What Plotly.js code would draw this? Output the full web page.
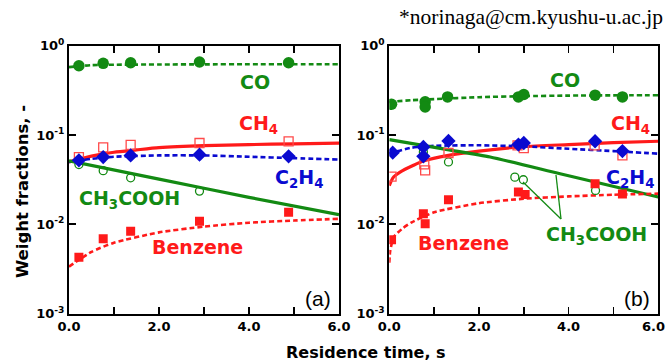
<!DOCTYPE html>
<html>
<head>
<meta charset="utf-8">
<script src="https://cdn.plot.ly/plotly-3.0.1.min.js"></script>
<style>html,body{margin:0;padding:0;background:#fff;}#chart{width:668px;height:363px;}</style>
</head>
<body>
<div id="chart"></div>
<script>
// ---------- Panel (a) data ----------
const aCO_x = [0.22, 0.76, 1.37, 2.9, 4.88];
const aCO_y = [0.596, 0.634, 0.645, 0.656, 0.645];
const aCOfit_x = [0, 0.5, 1, 2, 3, 4, 5, 6];
const aCOfit_y = [0.575, 0.605, 0.612, 0.616, 0.618, 0.62, 0.62, 0.62];

const aCH4_x = [0.22, 0.76, 1.37, 2.9, 4.88];
const aCH4_y = [0.0566, 0.0725, 0.0775, 0.0813, 0.0849];
const aCH4fit_x = [0, 0.5, 1, 1.5, 2, 3, 4, 5, 6];
const aCH4fit_y = [0.050, 0.058, 0.064, 0.068, 0.072, 0.076, 0.078, 0.0795, 0.081];

const aC2H4_x = [0.22, 0.76, 1.37, 2.9, 4.88];
const aC2H4_y = [0.052, 0.0566, 0.059, 0.0601, 0.0577];
const aC2H4fit_x = [0, 0.5, 1, 2, 3, 4, 5, 6];
const aC2H4fit_y = [0.0498, 0.054, 0.057, 0.059, 0.059, 0.057, 0.055, 0.053];

const aAc_x = [0.22, 0.76, 1.37, 2.9];
const aAc_y = [0.0466, 0.0398, 0.0331, 0.0235];
const aAcfit_x = [0, 2, 4, 6];
const aAcfit_y = [0.0512, 0.032, 0.020, 0.0128];

const aBz_x = [0.22, 0.76, 1.37, 2.9, 4.88];
const aBz_y = [0.00426, 0.00686, 0.00834, 0.0108, 0.0136];
const aBzfit_x = [0, 0.5, 1, 2, 3, 4, 5, 6];
const aBzfit_y = [0.00335, 0.0049, 0.0062, 0.0081, 0.0094, 0.0104, 0.011, 0.0115];

// ---------- Panel (b) data ----------
const bCO_x = [0.05, 0.8, 0.8, 1.3, 2.88, 3.0, 4.59, 5.2];
const bCO_y = [0.221, 0.235, 0.206, 0.267, 0.267, 0.284, 0.279, 0.267];
const bCOfit_x = [0, 0.5, 1, 2, 3, 4, 5, 6];
const bCOfit_y = [0.235, 0.245, 0.252, 0.265, 0.272, 0.276, 0.278, 0.279];

const bCH4_x = [0.05, 0.78, 0.8, 1.32, 2.86, 3.0, 4.58, 5.2];
const bCH4_y = [0.0342, 0.0469, 0.0401, 0.0628, 0.0766, 0.0714, 0.0766, 0.059];
const bCH4fit_x = [0, 0.05, 0.1, 0.24, 0.54, 0.76, 1.32, 2, 3, 4, 5, 6];
const bCH4fit_y = [0.027, 0.031, 0.034, 0.0384, 0.0457, 0.051, 0.0591, 0.066, 0.074, 0.078, 0.082, 0.085];

const bC2H4_x = [0.076, 0.76, 0.76, 1.32, 2.88, 3.0, 4.59, 5.2];
const bC2H4_y = [0.0634, 0.0734, 0.0577, 0.0857, 0.078, 0.0813, 0.085, 0.066];
const bC2H4fit_x = [0, 0.5, 1, 2, 3, 4, 5, 6];
const bC2H4fit_y = [0.062, 0.072, 0.0755, 0.0766, 0.0745, 0.070, 0.066, 0.0617];

const bAc_x = [0.76, 1.32, 2.8, 2.99, 4.6];
const bAc_y = [0.0646, 0.0499, 0.0337, 0.0315, 0.0239];
const bAcfit_x = [0, 1.3, 2.25, 3.81, 6];
const bAcfit_y = [0.0887, 0.0685, 0.0566, 0.0368, 0.0202];

const bBz_x = [0.05, 0.76, 0.8, 1.32, 2.88, 3.03, 4.59, 5.2];
const bBz_y = [0.0067, 0.0131, 0.0101, 0.0188, 0.0229, 0.0215, 0.0284, 0.0218];
const bBzfit_x = [0, 0.02, 0.1, 0.3, 0.5, 1, 2, 3, 4, 5, 6];
const bBzfit_y = [0.0037, 0.005, 0.0072, 0.009, 0.0105, 0.0136, 0.0172, 0.0193, 0.0205, 0.0214, 0.022];

// ---------- Axis ticks ----------
const xTickVals = [0, 1, 2, 3, 4, 5, 6];
const xTickText = ['0.0', '', '2.0', '', '4.0', '', '6.0'];
const xTickText2 = ['0.0', '', '2.0', '', '4.0', '', ''];  // last label of (b) drawn as annotation to fit the page edge
const yTickVals = [0.001, 0.01, 0.1, 1];
const yTickText = ['10<sup>-3</sup>', '10<sup>-2</sup>', '10<sup>-1</sup>', '10<sup>0</sup>'];

const GREEN = '#138a13', RED = '#ff1a1a', BLUE = '#0a0ad0';

function line(x, y, color, dash, ax) {
  return {x, y, xaxis: 'x' + ax, yaxis: 'y' + ax, type: 'scatter', mode: 'lines',
    line: {color, width: dash ? 2.6 : 3.2, dash: dash ? '5px,3px' : 'solid', shape: 'spline', smoothing: 0.6},
    hoverinfo: 'skip', showlegend: false};
}
function pts(x, y, color, symbol, size, ax, open) {
  return {x, y, xaxis: 'x' + ax, yaxis: 'y' + ax, type: 'scatter', mode: 'markers',
    marker: {symbol, size, color,
      line: {color, width: open ? 1.3 : 0}}, showlegend: false};
}

const traces = [];
[['', {CO:[aCO_x,aCO_y,aCOfit_x,aCOfit_y], CH4:[aCH4_x,aCH4_y,aCH4fit_x,aCH4fit_y], C2H4:[aC2H4_x,aC2H4_y,aC2H4fit_x,aC2H4fit_y], Ac:[aAc_x,aAc_y,aAcfit_x,aAcfit_y], Bz:[aBz_x,aBz_y,aBzfit_x,aBzfit_y]}],
 ['2', {CO:[bCO_x,bCO_y,bCOfit_x,bCOfit_y], CH4:[bCH4_x,bCH4_y,bCH4fit_x,bCH4fit_y], C2H4:[bC2H4_x,bC2H4_y,bC2H4fit_x,bC2H4fit_y], Ac:[bAc_x,bAc_y,bAcfit_x,bAcfit_y], Bz:[bBz_x,bBz_y,bBzfit_x,bBzfit_y]}]
].forEach(([ax, d]) => {
  traces.push(line(d.CO[2], d.CO[3], GREEN, true, ax));
  traces.push(line(d.CH4[2], d.CH4[3], RED, false, ax));
  traces.push(line(d.C2H4[2], d.C2H4[3], BLUE, true, ax));
  traces.push(line(d.Ac[2], d.Ac[3], GREEN, false, ax));
  traces.push(line(d.Bz[2], d.Bz[3], RED, true, ax));
  traces.push(pts(d.Ac[0], d.Ac[1], GREEN, 'circle-open', 8, ax, true));
  traces.push(pts(d.CH4[0], d.CH4[1], '#ff4a4a', 'square-open', 9, ax, true));
  traces.push(pts(d.Bz[0], d.Bz[1], RED, 'square', 9, ax, false));
  traces.push(pts(d.CO[0], d.CO[1], GREEN, 'circle', 11.5, ax, false));
  traces.push(pts(d.C2H4[0], d.C2H4[1], BLUE, 'diamond', 11, ax, false));
});

const W = 668, H = 363;
const px = v => v / W, py = v => 1 - v / H;
const FONT = 'DejaVu Sans, Liberation Sans, Arial, sans-serif';
const tickFont = {family: FONT, size: 13, color: 'black', weight: 'bold'};

function xAx(dom, anchor, text) {
  return {domain: dom, anchor, range: [0, 6], showline: true, linecolor: 'black', linewidth: 2,
    mirror: 'ticks', ticks: 'inside', ticklen: 7, tickwidth: 1.6, tickcolor: 'black',
    tickmode: 'array', tickvals: xTickVals, ticktext: text, tickfont: tickFont,
    ticklabeloverflow: 'allow', showgrid: false, zeroline: false};
}
function yAx(anchor) {
  return {domain: [py(313.5), py(45.7)], anchor, type: 'log', range: [-3, 0], showline: true,
    linecolor: 'black', linewidth: 2, mirror: 'ticks', ticks: 'inside', ticklen: 7, tickwidth: 1.6,
    tickcolor: 'black', tickmode: 'array', tickvals: yTickVals, ticktext: yTickText,
    tickfont: tickFont, ticklabeloverflow: 'allow', showgrid: false, zeroline: false};
}

const lab = (text, x, y, color, size, extra) => Object.assign({text, x: px(x), y: py(y), xref: 'paper', yref: 'paper',
  showarrow: false, xanchor: 'center', yanchor: 'middle',
  font: {family: FONT, size: size || 19, color, weight: 'bold'}}, extra || {});
const regFont = {family: 'Liberation Sans, Arial, sans-serif', size: 21, color: 'black'};

const annotations = [
  lab('CO', 255, 82, GREEN), lab('CH<sub>4</sub>', 258, 124, RED), lab('C<sub>2</sub>H<sub>4</sub>', 299, 178, BLUE),
  lab('CH<sub>3</sub>COOH', 129, 199, GREEN), lab('Benzene', 197, 247, RED),
  lab('(a)', 318, 298, 'black', 21, {font: regFont}),
  lab('CO', 565, 80, GREEN), lab('CH<sub>4</sub>', 630, 124, RED), lab('C<sub>2</sub>H<sub>4</sub>', 630, 178, BLUE),
  lab('Benzene', 463, 243, RED), lab('CH<sub>3</sub>COOH', 596, 235, GREEN),
  lab('(b)', 637, 298, 'black', 21, {font: regFont}),
  lab(xTickText[6], 667, 326, 'black', 13, {xanchor: 'right', font: tickFont}),
  lab('Residence time, s', 366, 352, 'black', 16),
  lab('Weight fractions, -', 22, 192, 'black', 16.5, {textangle: -90}),
  {text: '*norinaga@cm.kyushu-u.ac.jp', x: px(665), y: py(17), xref: 'paper', yref: 'paper', showarrow: false,
   xanchor: 'right', yanchor: 'middle', font: {family: 'Liberation Serif, Times New Roman, serif', size: 21.5, color: 'black'}}
];

const shapes = [
  {type: 'line', xref: 'paper', yref: 'paper', x0: px(561), y0: py(219), x1: px(523), y1: py(182), line: {color: GREEN, width: 1.3}},
  {type: 'line', xref: 'paper', yref: 'paper', x0: px(561), y0: py(219), x1: px(556), y1: py(175), line: {color: GREEN, width: 1.3}}
];

const layout = {
  width: W, height: H, margin: {l: 0, r: 0, t: 0, b: 0}, paper_bgcolor: 'white', plot_bgcolor: 'white',
  showlegend: false,
  xaxis: xAx([px(69), px(339)], 'y', xTickText), yaxis: yAx('x'),
  xaxis2: xAx([px(389.3), px(658.3)], 'y2', xTickText2), yaxis2: yAx('x2'),
  annotations, shapes
};

Plotly.newPlot('chart', traces, layout, {displayModeBar: false, staticPlot: true});
</script>
</body>
</html>
